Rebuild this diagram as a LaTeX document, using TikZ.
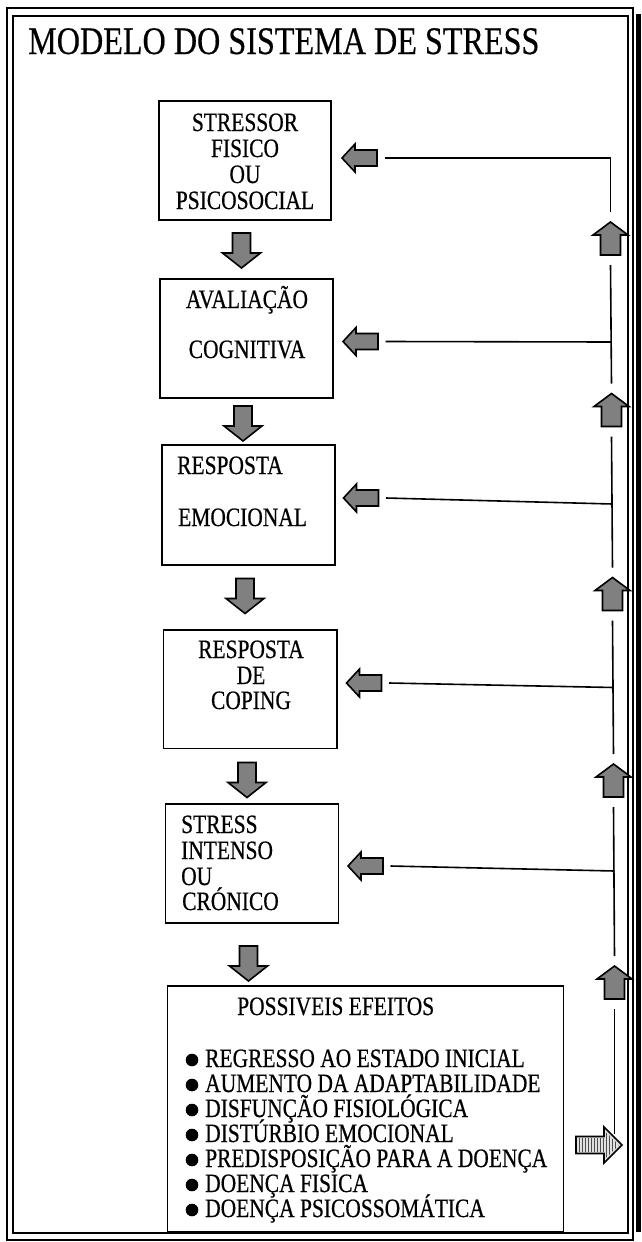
\documentclass[tikz,border=0pt]{standalone}
\usepackage{fontspec}
\usetikzlibrary{patterns}
\setmainfont{Liberation Serif}
\newfontfamily\bxf{Liberation Serif}[FakeStretch=0.81,FakeBold=0.5]
\newfontfamily\ttlf{Liberation Serif}[FakeStretch=0.825,FakeBold=0.4]
\tikzset{
  frameline/.style={draw=black, line width=1.2pt},
  box/.style={draw=black, line width=1.6pt, inner sep=0pt},
  txt/.style={font=\bxf\fontsize{26.5}{26.5}\selectfont, inner sep=0pt, anchor=base},
  txtl/.style={txt, anchor=base west},
  fb/.style={line width=1.6pt},
  blk/.style={draw=black, line width=1.6pt, fill=black!50, line join=miter},
  lite/.style={draw=black, line width=1.6pt, fill=black!12, line join=miter},
  stripes/.style={pattern=vertical lines, pattern color=black!70},
  darrow/.pic={\path[blk] (-9,-17.5) -- (9,-17.5) -- (9,2.5) -- (19,2.5) -- (0,17.5) -- (-19,2.5) -- (-9,2.5) -- cycle;
     \coordinate (-top) at (0,-17.5); \coordinate (-bot) at (0,17.5);},
  larrow/.pic={\path[blk] (17.5,-8) -- (-4.5,-8) -- (-4.5,-14) -- (-17.5,0) -- (-4.5,14) -- (-4.5,8) -- (17.5,8) -- cycle;
     \coordinate (-end) at (25,0);},
  uarrow/.pic={\path[blk] (0,-16.5) -- (17.5,-3.5) -- (10,-3.5) -- (10,16.5) -- (-10,16.5) -- (-10,-3.5) -- (-17.5,-3.5) -- cycle;
     \coordinate (-top) at (0,-26.5); \coordinate (-bot) at (0,26.5);},
  rarrow/.pic={\path[lite] (-23,-8.5) -- (5,-8.5) -- (5,-18) -- (23,0) -- (5,18) -- (5,8.5) -- (-23,8.5) -- cycle;
     \path[stripes] (-21,-6.5) rectangle (5,6.5);
     \path[stripes] (7,-13) -- (20,0) -- (7,13) -- cycle;
     \coordinate (-tip) at (23,0);},
}
\begin{document}
\begin{tikzpicture}[x=1pt,y=-1pt]
\useasboundingbox (0,0) rectangle (641,1242);
% frame
\draw[frameline] (7,8) rectangle (633,1240);
\draw[frameline] (13,16) rectangle (628,1233);
\fill[black] (636,14) rectangle (641,1232);
% title
\node[anchor=base west, inner sep=0pt, font=\ttlf\fontsize{39}{39}\selectfont] (title) at (28,54) {MODELO DO SISTEMA DE STRESS};
% boxes
\node[box, minimum width=172, minimum height=119] (b1) at (245,160.5) {};
\node[box, minimum width=173, minimum height=119] (b2) at (246.5,338.5) {};
\node[box, minimum width=173, minimum height=120] (b3) at (248.5,505) {};
\node[box, minimum width=173.5, minimum height=118.5] (b4) at (250.25,689.25) {};
\node[box, minimum width=173, minimum height=119] (b5) at (252,863.5) {};
\node[box, minimum width=396, minimum height=246] (b6) at (365.5,1109) {};
% box texts
\node[txt] (t1a) at (245,131) {STRESSOR};
\node[txt] (t1b) at (245,157) {FISICO};
\node[txt] (t1c) at (245,183) {OU};
\node[txt] (t1d) at (245,209) {PSICOSOCIAL};
\node[txt] (t2a) at (247,308) {AVALIAÇÃO};
\node[txt] (t2b) at (247,358) {COGNITIVA};
\node[txtl] (t3a) at (177,474) {RESPOSTA};
\node[txtl] (t3b) at (178,526) {EMOCIONAL};
\node[txt] (t4a) at (251,658) {RESPOSTA};
\node[txt] (t4b) at (251,684) {DE};
\node[txt] (t4c) at (251,709) {COPING};
\node[txtl] (t5a) at (181,833) {STRESS};
\node[txtl] (t5b) at (181,859) {INTENSO};
\node[txtl] (t5c) at (181,885) {OU};
\node[txtl] (t5d) at (182,910) {CRÓNICO};
\node[txtl] (t6) at (237,1015) {POSSIVEIS EFEITOS};
\foreach \y/\s [count=\i] in {1067/REGRESSO AO ESTADO INICIAL,1092/AUMENTO DA ADAPTABILIDADE,1117/DISFUNÇÃO FISIOLÓGICA,1142/DISTÚRBIO EMOCIONAL,1167/PREDISPOSIÇÃO PARA A DOENÇA,1192/DOENÇA FISICA,1217/DOENÇA PSICOSSOMÁTICA}{
  \node[txtl] (e\i) at (205,\y) {\s};
  \fill[black] (192,\y-7) circle (6.3);
}
% down arrows
\pic (d1) at (241.5,250.5) {darrow};
\pic (d2) at (243,423.5) {darrow};
\pic (d3) at (245,596) {darrow};
\pic (d4) at (247,780) {darrow};
\pic (d5) at (248.5,963.5) {darrow};
% left arrows
\pic (l1) at (359.5,158) {larrow};
\pic (l2) at (360.5,341.5) {larrow};
\pic (l3) at (361,498) {larrow};
\pic (l4) at (364,683) {larrow};
\pic (l5) at (365.5,866) {larrow};
% up arrows
\pic (u1) at (610.5,238.5) {uarrow};
\pic (u2) at (611.5,410) {uarrow};
\pic (u3) at (612.5,594) {uarrow};
\pic (u4) at (613.5,780.5) {uarrow};
\pic (u5) at (614.5,982.5) {uarrow};
% right arrow
\pic (r1) at (599,1145) {rarrow};
% feedback coordinates
\coordinate (v1) at (610.5,158);
\coordinate (v2) at (611.5,342);
\coordinate (v3) at (612.5,504);
\coordinate (v4) at (613.5,687.5);
\coordinate (v5) at (614.5,871);
\coordinate (vend) at (614.5,1134);
% feedback lines
\draw[fb] (l1-end) -- (v1) -- (u1-top);
\draw[fb] (l2-end) -- (v2);
\draw[fb] (l3-end) -- (v3);
\draw[fb] (l4-end) -- (v4);
\draw[fb] (l5-end) -- (v5);
\draw[fb] (u1-bot) -- (u2-top);
\draw[fb] (u2-bot) -- (u3-top);
\draw[fb] (u3-bot) -- (u4-top);
\draw[fb] (u4-bot) -- (u5-top);
\draw[fb] (u5-bot) -- (vend);
\end{tikzpicture}
\end{document}
